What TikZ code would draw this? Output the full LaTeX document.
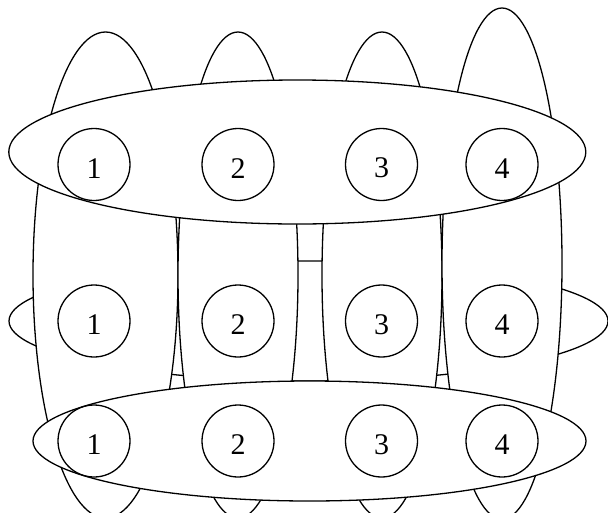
\documentclass[tikz,border=0pt]{standalone}
\usepackage{fontspec}
\setmainfont{Liberation Serif}
\usetikzlibrary{shapes.geometric}

\begin{document}
\begin{tikzpicture}[x=1pt,y=-1pt,line width=1.3pt,
  num/.style={circle,draw,inner sep=0pt,minimum size=72pt,
    font=\fontsize{30}{30}\selectfont,text height=27pt},
  blob/.style={ellipse,draw,fill=white,inner sep=0pt}]
  \useasboundingbox (0,0) rectangle (608,512);
  \clip (0,0) rectangle (608,512);
  % middle row first, the columns hide most of it
  \node[blob,minimum width=599pt,minimum height=120pt] (mid) at (308.5,321) {};
  \node[blob,minimum width=145pt,minimum height=486pt] (col1) at (105.5,275) {};
  \node[blob,minimum width=120pt,minimum height=486pt] (col2) at (238,275) {};
  \node[blob,minimum width=120pt,minimum height=486pt] (col3) at (382,275) {};
  \node[blob,minimum width=120pt,minimum height=511pt] (col4) at (502,263.5) {};
  \node[blob,minimum width=577pt,minimum height=144pt] (top) at (297.3,152) {};
  \node[blob,minimum width=553pt,minimum height=120pt] (bot) at (309.5,441) {};
  % the numbered circles
  \node[num] (t1) at (94,164.5) {1};
  \node[num] (t2) at (238,164.5) {2};
  \node[num] (t3) at (381.5,164.5) {3};
  \node[num] (t4) at (502,164.5) {4};
  \node[num] (m1) at (94,321) {1};
  \node[num] (m2) at (238,321) {2};
  \node[num] (m3) at (381.5,321) {3};
  \node[num] (m4) at (502,321) {4};
  \node[num] (b1) at (94,441) {1};
  \node[num] (b2) at (238,441) {2};
  \node[num] (b3) at (381.5,441) {3};
  \node[num] (b4) at (502,441) {4};
\end{tikzpicture}
\end{document}
